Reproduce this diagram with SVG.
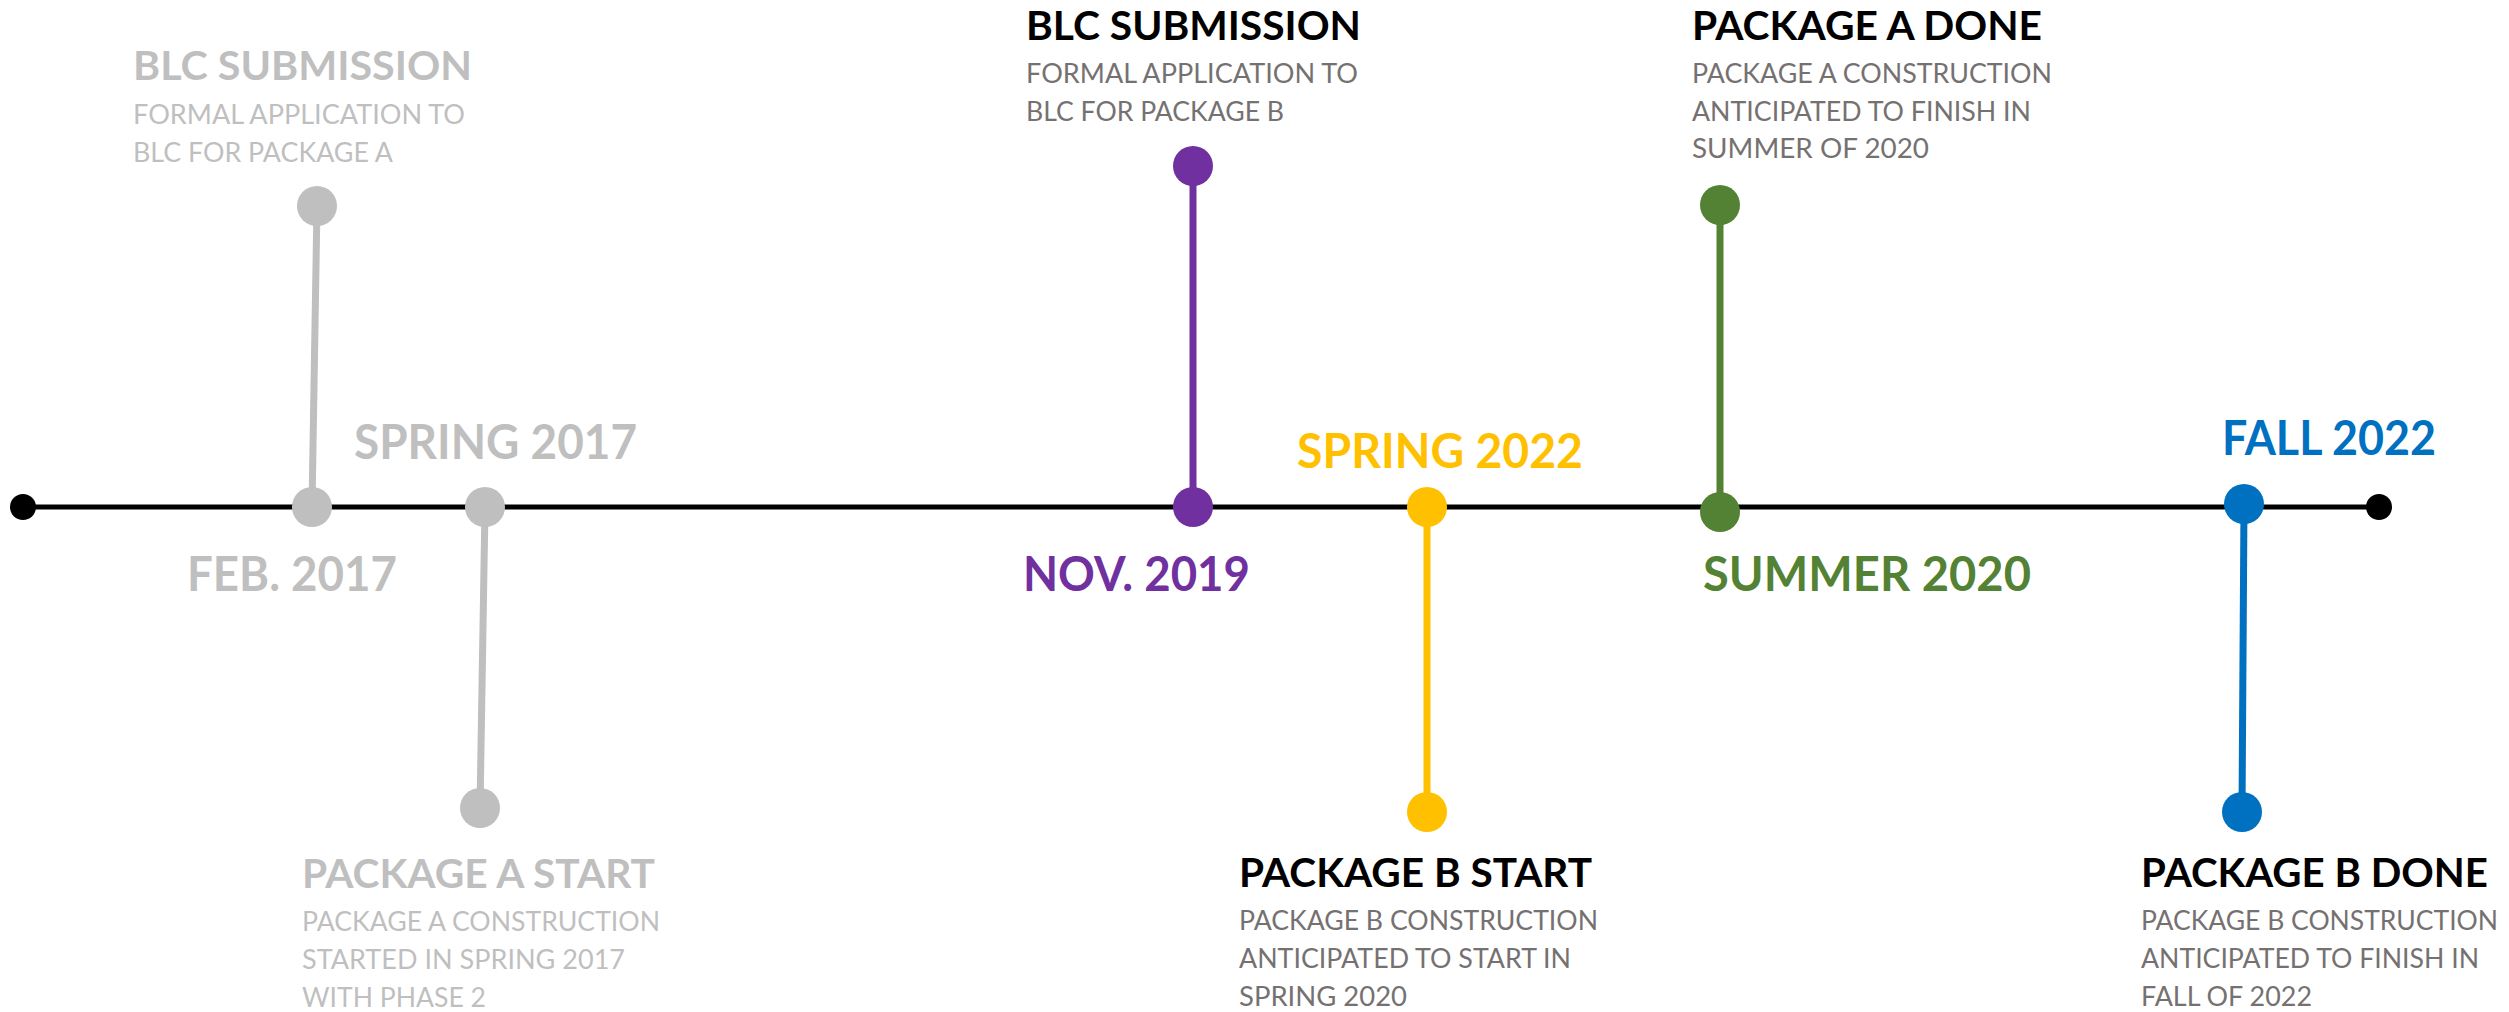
<svg xmlns="http://www.w3.org/2000/svg" width="2509" height="1012" viewBox="0 0 2509 1012">
<style>
text{font-family:Lato,"Open Sans","Liberation Sans",sans-serif}
.t{font-weight:bold;font-size:40px}
.d{font-weight:bold;font-size:47px}
.s{font-size:27px;fill:#767171}
.g{fill:#BFBFBF}
.k{fill:#000}
.stalk{stroke-width:7;fill:none}
</style>
<rect width="2509" height="1012" fill="#fff"/>
<g id="connectors">
<line x1="23" y1="507" x2="2379" y2="507" stroke="#000" stroke-width="5"/>
<line class="stalk" x1="312" y1="507" x2="317" y2="206" stroke="#BFBFBF"/>
<line class="stalk" x1="485" y1="507" x2="480" y2="808" stroke="#BFBFBF"/>
<line class="stalk" x1="1193" y1="507" x2="1193" y2="166" stroke="#7030A0"/>
<line class="stalk" x1="1427" y1="507" x2="1427" y2="812" stroke="#FFC000"/>
<line class="stalk" x1="1720" y1="512" x2="1720" y2="205" stroke="#548235"/>
<line class="stalk" x1="2244" y1="504" x2="2242" y2="812" stroke="#0070C0"/>
</g>
<g id="start"><circle cx="23" cy="507" r="13" fill="#000"/></g>
<g id="end"><circle cx="2379" cy="507" r="13" fill="#000"/></g>
<g id="blc-a">
<circle cx="312" cy="507" r="20" fill="#BFBFBF"/>
<circle cx="317" cy="206" r="20" fill="#BFBFBF"/>
<text class="t g" x="133" y="80" textLength="339" lengthAdjust="spacingAndGlyphs">BLC SUBMISSION</text>
<text class="s g" x="133" y="124" textLength="332" lengthAdjust="spacingAndGlyphs">FORMAL APPLICATION TO</text>
<text class="s g" x="133" y="162" textLength="260" lengthAdjust="spacingAndGlyphs">BLC FOR PACKAGE A</text>
<text class="d g" x="187" y="591" textLength="210" lengthAdjust="spacingAndGlyphs">FEB. 2017</text>
</g>
<g id="pkg-a-start">
<circle cx="485" cy="507" r="20" fill="#BFBFBF"/>
<circle cx="480" cy="808" r="20" fill="#BFBFBF"/>
<text class="d g" x="354" y="459" textLength="283" lengthAdjust="spacingAndGlyphs">SPRING 2017</text>
<text class="t g" x="302" y="888" textLength="353" lengthAdjust="spacingAndGlyphs">PACKAGE A START</text>
<text class="s g" x="302" y="931" textLength="358" lengthAdjust="spacingAndGlyphs">PACKAGE A CONSTRUCTION</text>
<text class="s g" x="302" y="969" textLength="323" lengthAdjust="spacingAndGlyphs">STARTED IN SPRING 2017</text>
<text class="s g" x="302" y="1007" textLength="184" lengthAdjust="spacingAndGlyphs">WITH PHASE 2</text>
</g>
<g id="blc-b">
<circle cx="1193" cy="507" r="20" fill="#7030A0"/>
<circle cx="1193" cy="166" r="20" fill="#7030A0"/>
<text class="t k" x="1026" y="40" textLength="335" lengthAdjust="spacingAndGlyphs">BLC SUBMISSION</text>
<text class="s" x="1026" y="83" textLength="332" lengthAdjust="spacingAndGlyphs">FORMAL APPLICATION TO</text>
<text class="s" x="1026" y="121" textLength="258" lengthAdjust="spacingAndGlyphs">BLC FOR PACKAGE B</text>
<text class="d" x="1023" y="591" fill="#7030A0" textLength="227" lengthAdjust="spacingAndGlyphs">NOV. 2019</text>
</g>
<g id="pkg-b-start">
<circle cx="1427" cy="507" r="20" fill="#FFC000"/>
<circle cx="1427" cy="812" r="20" fill="#FFC000"/>
<text class="d" x="1297" y="468" fill="#FFC000" textLength="286" lengthAdjust="spacingAndGlyphs">SPRING 2022</text>
<text class="t k" x="1239" y="887" textLength="353" lengthAdjust="spacingAndGlyphs">PACKAGE B START</text>
<text class="s" x="1239" y="930" textLength="359" lengthAdjust="spacingAndGlyphs">PACKAGE B CONSTRUCTION</text>
<text class="s" x="1239" y="968" textLength="332" lengthAdjust="spacingAndGlyphs">ANTICIPATED TO START IN</text>
<text class="s" x="1239" y="1006" textLength="168" lengthAdjust="spacingAndGlyphs">SPRING 2020</text>
</g>
<g id="pkg-a-done">
<circle cx="1720" cy="512" r="20" fill="#548235"/>
<circle cx="1720" cy="205" r="20" fill="#548235"/>
<text class="t k" x="1692" y="40" textLength="350" lengthAdjust="spacingAndGlyphs">PACKAGE A DONE</text>
<text class="s" x="1692" y="83" textLength="360" lengthAdjust="spacingAndGlyphs">PACKAGE A CONSTRUCTION</text>
<text class="s" x="1692" y="121" textLength="339" lengthAdjust="spacingAndGlyphs">ANTICIPATED TO FINISH IN</text>
<text class="s" x="1692" y="158" textLength="237" lengthAdjust="spacingAndGlyphs">SUMMER OF 2020</text>
<text class="d" x="1703" y="591" fill="#548235" textLength="328" lengthAdjust="spacingAndGlyphs">SUMMER 2020</text>
</g>
<g id="pkg-b-done">
<circle cx="2244" cy="504" r="20" fill="#0070C0"/>
<circle cx="2242" cy="812" r="20" fill="#0070C0"/>
<text class="d" x="2222" y="455" fill="#0070C0" textLength="214" lengthAdjust="spacingAndGlyphs">FALL 2022</text>
<text class="t k" x="2141" y="887" textLength="347" lengthAdjust="spacingAndGlyphs">PACKAGE B DONE</text>
<text class="s" x="2141" y="930" textLength="357" lengthAdjust="spacingAndGlyphs">PACKAGE B CONSTRUCTION</text>
<text class="s" x="2141" y="968" textLength="338" lengthAdjust="spacingAndGlyphs">ANTICIPATED TO FINISH IN</text>
<text class="s" x="2141" y="1006" textLength="171" lengthAdjust="spacingAndGlyphs">FALL OF 2022</text>
</g>
</svg>
